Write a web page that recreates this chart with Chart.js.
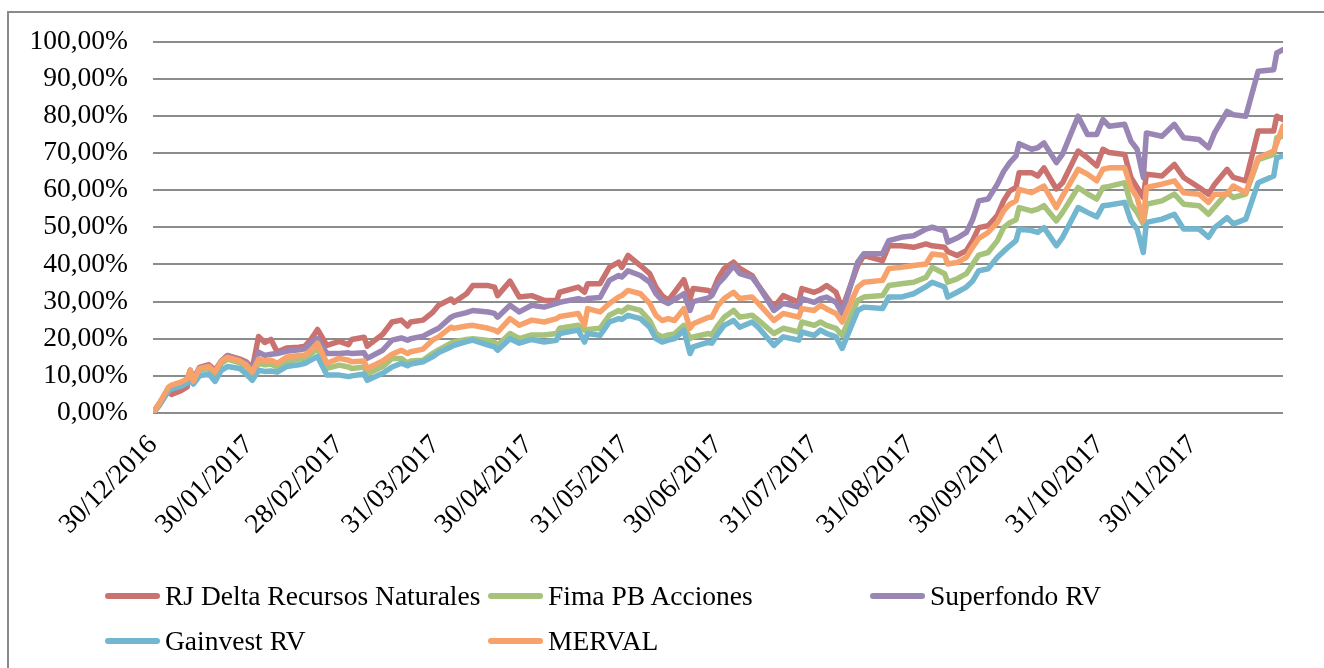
<!DOCTYPE html>
<html><head><meta charset="utf-8">
<script src="https://cdn.jsdelivr.net/npm/chart.js@4.4.1/dist/chart.umd.min.js"></script>
<style>
html,body{margin:0;padding:0;background:#fff;}
#wrap{position:relative;width:1324px;height:668px;overflow:hidden;background:#fff;}
#frame{position:absolute;left:7px;top:11px;width:1340px;height:700px;border:2px solid #8a8a8a;box-sizing:border-box;}
canvas{position:absolute;left:0;top:0;}
.lg{position:absolute;font-family:"Liberation Serif",serif;font-size:27.5px;color:#000;white-space:nowrap;line-height:30px;}
.sw{position:absolute;height:6px;border-radius:3px;}
</style></head>
<body><div id="wrap"><div id="frame"></div><canvas id="c" width="1324" height="668"></canvas><div id="legend"></div></div>
<script>
// day offsets from 30/12/2016
const days = [0,2,5,6,9,11,12,13,15,18,20,22,24,28,30,32,34,36,38,40,43,47,49,51,53,56,60,63,64,68,69,74,77,80,82,83,87,90,92,96,97,101,103,108,110,111,115,118,122,126,130,131,137,139,140,144,147,150,151,153,157,160,162,164,166,168,171,173,174,179,180,182,184,187,189,193,195,200,203,208,209,213,215,217,220,222,227,229,235,237,241,245,249,251,255,256,259,262,264,266,269,272,274,276,278,279,283,285,287,291,293,298,301,304,306,308,313,315,317,319,320,325,329,332,337,340,342,346,348,352,356,361,362,364];

const rjDelta = [0,2.5,6,5,6,7,11.5,9,12.3,13,11.5,14,15.5,14.5,13.8,12,20.6,19,19.8,16.4,17.5,17.7,18,20,22.5,18.2,19.3,18.4,19.8,20.4,18,21.2,24.5,25,23.4,24.5,25,27,29,30.7,29.8,32.1,34.3,34.3,33.9,31.6,35.5,31.2,31.6,30.3,30.3,32.5,33.9,32.5,34.8,34.8,39.2,40.6,39.2,42.4,39.7,37.5,33.9,31.6,30.3,32.5,35.9,30.8,33.5,33,32.2,36.2,38.9,40.6,38.9,37,34.3,28.5,31.6,29.8,33.5,32.5,33.2,34.3,32.5,28.1,39.7,42.4,41,45,45,44.6,45.5,45,44.6,43.5,42.4,43.7,46.4,49.9,50.4,53.2,57.1,59.8,60.7,64.7,64.7,63.8,66,60.3,62,70.5,68.7,66.5,71,70.1,69.6,63.4,60.7,58,64.3,63.8,66.9,63.4,60.7,58.9,61.6,65.6,63.4,62.5,75.9,75.9,79.9,79];

const fimaPB = [0,2,6,7,7.8,8.8,10.5,8.5,11.5,12,10.5,13.3,14.5,13.5,12.5,10.5,13.4,13,13.2,12.4,13.8,14.5,14.8,16,17.4,12,12.9,12.4,12,12.4,10.5,12.5,14.7,14.7,13.4,14,14.2,16,17,18.8,19.2,19.8,20,19.5,19.1,18.2,21.4,20,21,21,21.4,22.8,23.6,22.3,22.5,22.8,26.3,27.6,27.2,28.5,27.6,24.9,21.4,20.5,21,21.3,23.6,20,20.5,21.4,21,23.6,25.8,27.6,25.8,26.3,25,21.4,22.8,21.8,24.5,23.6,24.5,23.6,22.8,20.9,30.3,31.2,31.6,34.3,34.8,35.2,36.5,39.2,37.5,35.2,36.1,37.5,40,42.5,43.2,46.4,49.9,51.2,52,55.3,54.4,54.9,55.8,51.7,54,60.7,59,57.6,60.7,61,62,56.2,54,50.9,56.2,57.1,58.9,56.2,55.8,53.5,55.5,59.3,58,58.9,68.2,69.6,74.1,74.5];

const superfondo = [0,2.5,6.5,7,8,9,11.5,8.5,12,12.8,11,14,15.3,14.2,13.5,11.5,16.4,15.5,15.8,16,16.6,17,17.3,19,20,16,16,16.2,16,16.2,14.7,16.9,19.6,20.2,19.6,20,20.7,22,22.8,25.8,26.2,27,27.6,27.2,26.8,25.8,29,27.2,29,28.5,29.5,29.8,30.8,30.3,30.8,31.1,35.7,37,36.6,38.3,37,35.2,32.1,30.3,29.5,30.5,32.1,27.6,30,31,31.6,34.8,36.5,39.7,37.5,36.5,34.3,27.6,29.5,28.5,30.8,29.8,30.8,31.2,29.8,26.8,40.6,42.9,42.9,46.4,47.3,47.7,49.5,50,49,46,47.1,48.6,52,57.1,57.6,61.6,65,67.4,69.2,72.5,71,71.4,72.7,67.4,69.7,79.9,75,75,79,77.2,77.7,73.2,71,63.4,75.4,74.5,77.7,74.1,73.6,71.4,75.5,81.2,80.3,79.9,92,92.4,96.9,97.8];

const gainvest = [0,2,6,6.5,7.2,8,9.5,7.8,10,10.5,8.5,11.5,12.5,12,10.5,8.8,11.5,11.2,11.3,11,12.5,13,13.4,14.3,15.2,10.2,10.2,9.8,10,10.5,8.8,10.7,12.4,13.4,12.7,13.2,13.8,15.1,16.3,17.8,18.2,19.2,19.6,18.3,17.8,16.9,20,18.8,19.8,19.1,19.6,21.4,22.3,19.1,21.4,20.9,24.5,25.4,25.2,26.3,25.4,23.1,20,19.1,19.6,20,22.3,16,17.8,19.1,18.8,21.4,23.6,24.9,23.1,24.5,23,18.2,20.5,19.6,21.8,20.9,22.3,21.4,20.5,17.4,27.6,28.5,28.1,31.2,31.2,32.1,34,35.2,33.9,31.2,32.5,33.9,35.5,38.3,38.8,41.9,43.5,45,46.4,49.5,49.1,48.6,49.9,45,47.3,55.3,54,52.8,55.8,56,56.7,51.7,49.5,43.2,51.3,52.2,53.5,49.5,49.5,47.3,49.9,52.6,50.9,52.2,62,63.8,68.7,69.2];

const merval = [0,2.5,7,7.5,8.3,9.2,11.5,8.5,12,12.5,11,14,15,14,13,11,14.5,14,14.2,13.4,15,15.5,15.6,17,18.8,13.4,14.7,14.2,13.8,14,12,14,15.8,16.9,16,16.5,17.2,19.6,20.5,23.1,22.8,23.4,23.6,22.8,22.3,21.8,25.4,23.6,25,24.5,25.4,26,26.8,23.6,28.1,27.2,29.5,31.2,31.6,33,32.1,29.5,26.3,24.9,25.4,24.9,28.1,22.8,24,25.8,25.8,29,30.8,32.5,30.8,31.2,29.5,24.9,26.8,25.8,28.1,27.6,29,28,26.8,24.5,33.9,35.2,35.7,38.9,39.2,39.7,40.1,42.8,42.4,40.1,40.5,41.9,44.6,47,48.6,51.3,54.4,56.2,57.1,60.2,59.3,60.2,61.1,55.3,58.4,65.6,64.3,62.5,65.6,66,66,60.7,58,51.7,60.7,61.6,62.5,59.3,58.9,56.7,58.9,58.9,61.1,59.3,68.7,70.5,72.7,77.2];

const seriesNames = ["RJ Delta Recursos Naturales","Fima PB Acciones","Superfondo RV","Gainvest RV","MERVAL"];
const seriesColors = ["#c9726f","#a7c37b","#9a86b5","#72b6cf","#f8a26b"];
const tickDays = [0,31,60,91,121,152,182,213,244,274,305,335];
const tickLabels = ["30/12/2016","30/01/2017","28/02/2017","31/03/2017","30/04/2017","31/05/2017","30/06/2017","31/07/2017","31/08/2017","30/09/2017","31/10/2017","30/11/2017"];

const seriesValues = [rjDelta, fimaPB, superfondo, gainvest, merval];
const FONT = "Liberation Serif";

const datasets = seriesValues.map((vals, k) => ({
  label: seriesNames[k],
  data: days.map((d, i) => ({x: d, y: vals[i]})),
  borderColor: seriesColors[k],
  backgroundColor: seriesColors[k],
  borderWidth: 5.5,
  pointRadius: 0,
  tension: 0,
  borderJoinStyle: 'round',
  borderCapStyle: 'round',
  fill: false,
  order: 5 - k
}));

new Chart(document.getElementById('c'), {
  type: 'line',
  data: {datasets},
  options: {
    responsive: false,
    animation: false,
    devicePixelRatio: 1,
    layout: {padding: {top: 40, right: 41, bottom: 0, left: 0}},
    plugins: {legend: {display: false}, tooltip: {enabled: false}},
    scales: {
      x: {
        type: 'linear', min: 0, max: 364,
        grid: {display: false, drawTicks: false},
        border: {display: false},
        afterBuildTicks: s => { s.ticks = tickDays.map(v => ({value: v})); },
        afterFit: s => { s.height = 255; },
        ticks: {
          autoSkip: false, minRotation: 45, maxRotation: 45, padding: 16,
          color: '#000', font: {family: FONT, size: 27.5},
          callback: v => tickLabels[tickDays.indexOf(v)]
        }
      },
      y: {
        min: 0, max: 100,
        afterFit: s => { s.width = 153; },
        grid: {color: '#8c8c8c', lineWidth: 2, drawTicks: false},
        border: {display: false},
        ticks: {
          stepSize: 10, padding: 25, color: '#000', font: {family: FONT, size: 27.5},
          callback: v => v.toFixed(2).replace('.', ',') + '%'
        }
      }
    }
  }
});

// custom Excel-like legend
const legendPos = [[105,596],[488,596],[870,596],[105,641],[488,641]];
const lg = document.getElementById('legend');
seriesNames.forEach((name, k) => {
  const [x, y] = legendPos[k];
  const sw = document.createElement('div');
  sw.className = 'sw';
  sw.style.left = x + 'px'; sw.style.top = (y - 3) + 'px'; sw.style.width = '55px';
  sw.style.background = seriesColors[k];
  lg.appendChild(sw);
  const t = document.createElement('div');
  t.className = 'lg';
  t.style.left = (x + 60) + 'px'; t.style.top = (y - 15) + 'px';
  t.textContent = name;
  lg.appendChild(t);
});
</script>
</body></html>
